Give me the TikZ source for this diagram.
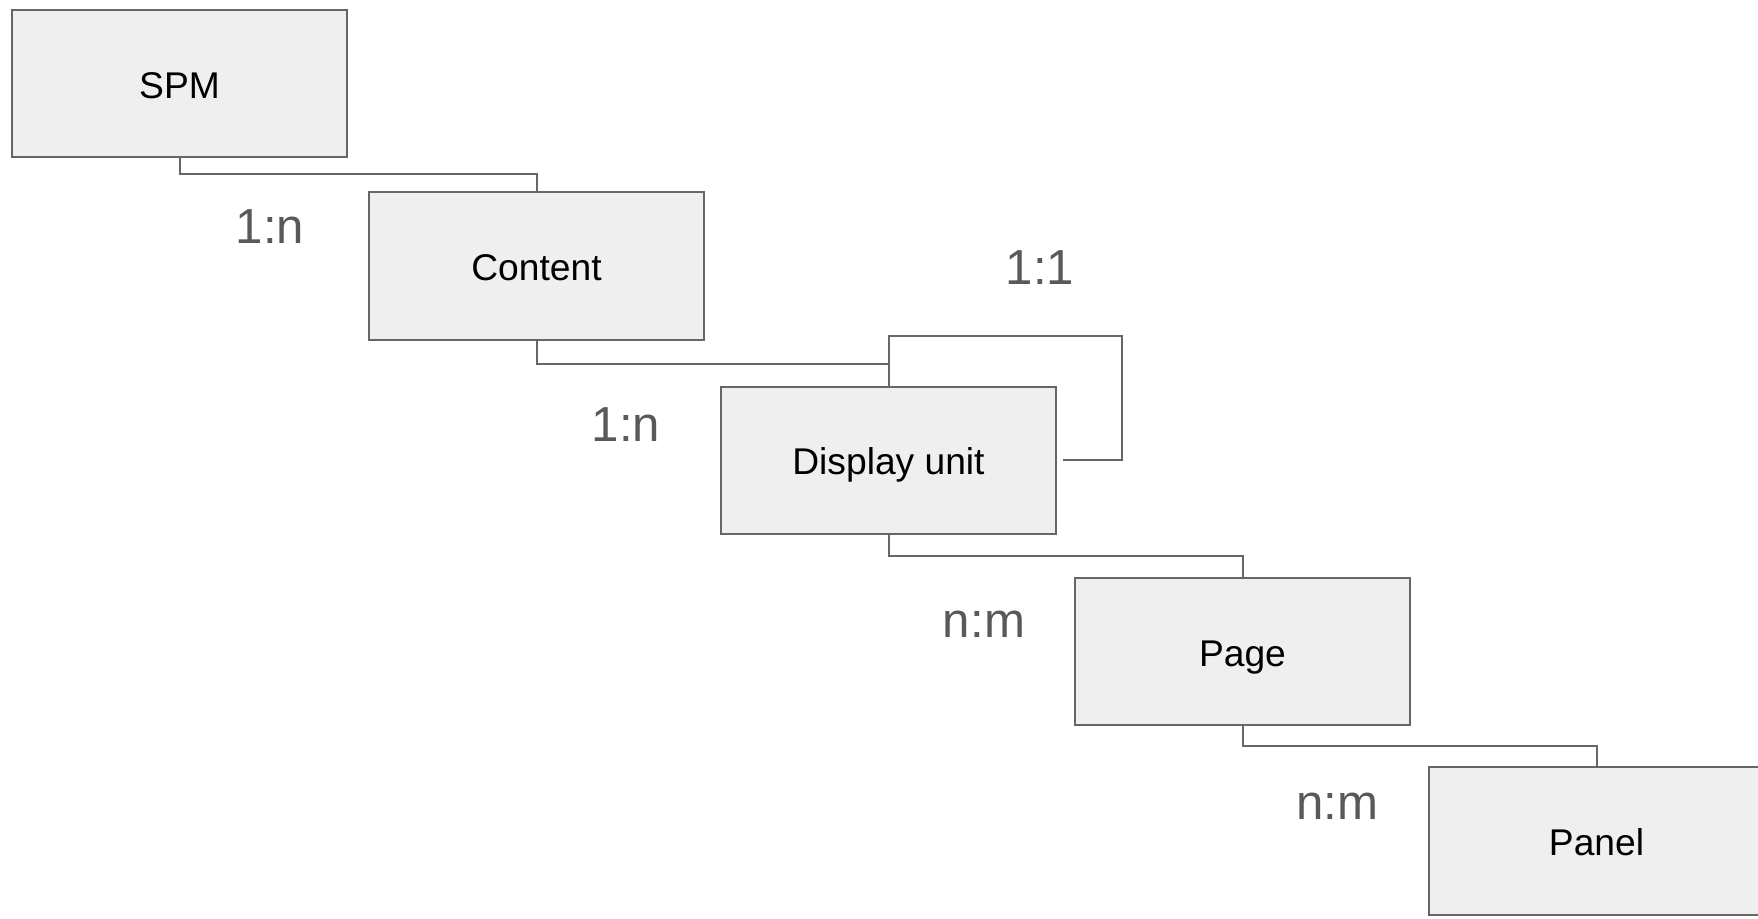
\documentclass[tikz,border=0pt]{standalone}
\usepackage{fontspec}
\setmainfont{Liberation Sans}
\usepackage{tikz}
\usetikzlibrary{positioning}

\definecolor{boxfill}{HTML}{EFEFEF}
\definecolor{boxline}{HTML}{666666}
\definecolor{cardgray}{HTML}{595959}

\begin{document}
\begin{tikzpicture}[x=0.25pt,y=0.25pt]
	\tikzstyle{block} = [draw=boxline, fill=boxfill, line width=0.5pt, rectangle, minimum height=36.85pt, minimum width=83.75pt, inner sep=0pt, text height=7.2pt, text depth=0pt, font=\fontsize{9.3}{11}\selectfont]
	\tikzstyle{link} = [draw=boxline, line width=0.5pt]
	\tikzstyle{card} = [text=cardgray, inner sep=0pt, anchor=base, font=\fontsize{12.3}{14}\selectfont]

	\useasboundingbox (0,0) rectangle (1758,-919);

	\node [block, anchor=north west] (spm) at (11,-9) {SPM};
	\node [block, below right = 8.25pt and 5pt of spm] (content) {Content};
	\node [block, below right = 11.2pt and 3.75pt of content] (unit) {Display unit};
	\node [block, below right = 10.5pt and 4.25pt of unit] (page) {Page};
	\node [block, below right = 10pt and 4.25pt of page] (panel) {Panel};

	\node [coordinate, below = 4pt of spm] (c1) {};
	\node [coordinate, below = 5.75pt of content] (c2) {};
	\node [coordinate, below = 5.25pt of unit] (c3) {};
	\node [coordinate, below = 5pt of page] (c4) {};

	\node [coordinate, above = 12.5pt of unit] (loopt) {};
	\node [coordinate, right = 16.25pt of unit] (loopr) {};
	\node [coordinate, right = 1.5pt of unit] (loope) {};

	\node [card] (r1) at (270,-244) {1:n};
	\node [card] (r2) at (626,-442) {1:n};
	\node [card] (r3) at (1040,-285) {1:1};
	\node [card] (r4) at (984,-638) {n:m};
	\node [card] (r5) at (1337,-819) {n:m};

	\draw [link] (spm.south) -- (c1) -| (content.north);
	\draw [link] (content.south) -- (c2) -| (unit.north);
	\draw [link] (unit.north) -- (loopt) -| (loopr) -- (loope);
	\draw [link] (unit.south) -- (c3) -| (page.north);
	\draw [link] (page.south) -- (c4) -| (panel.north);

\end{tikzpicture}
\end{document}
